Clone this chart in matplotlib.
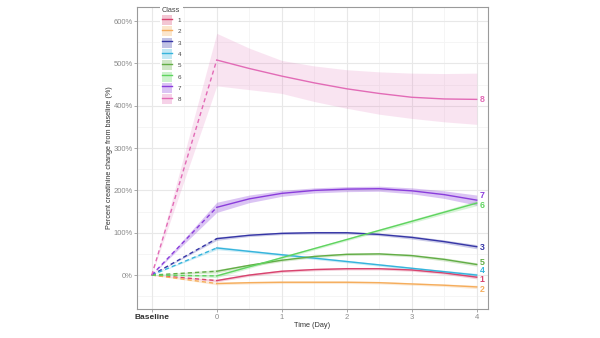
import matplotlib
matplotlib.use("Agg")
import matplotlib.pyplot as plt
from matplotlib.lines import Line2D
from matplotlib.patches import Patch

plt.rcParams['font.family'] = ['Liberation Sans', 'DejaVu Sans']

# ---- data ----
classes = ["1", "2", "3", "4", "5", "6", "7", "8"]
colors = ["#d8436e", "#f5ad5c", "#3636a6", "#35b4dc", "#62ad45", "#5fd45f", "#8a3ddb", "#e26bb6"]
times = [0, 0.5, 1, 1.5, 2, 2.5, 3, 3.5, 4]
baseline_x = -1
baseline_y = 0
values = {
    "1": [-13, 0, 9, 13, 15, 15, 12, 5, -5],
    "2": [-20, -18, -17, -17, -17, -18, -21, -24, -28],
    "3": [86, 94, 98.5, 100, 100, 96, 89, 79, 67],
    "4": [64, 56, 48, 40, 32, 24, 16, 8, 0],
    "5": [9, 23, 35, 44, 49, 50, 46, 37, 25],
    "6": [-2, 19.5, 41, 62.5, 84, 105.5, 127, 148.5, 170],
    "7": [160, 180, 193, 200, 203, 204, 199, 190, 177],
    "8": [508, 488, 470, 454, 440, 429, 420, 416, 415],
}
lower = {
    "1": [-16, -3, 6, 10, 12, 12, 9, 2, -9],
    "2": [-23, -21, -20, -20, -20, -21, -24, -27, -32],
    "3": [82, 91, 95.5, 97, 97, 93, 85, 75, 62],
    "4": [60, 53, 45, 37, 29, 21, 13, 5, -4],
    "5": [5, 20, 32, 41, 46, 47, 43, 33, 21],
    "6": [-6, 16, 38, 59.5, 81, 102, 123, 144, 164],
    "7": [148, 171, 186, 194, 197, 198, 192, 181, 165],
    "8": [447, 438, 429, 410, 394, 380, 370, 362, 356],
}
upper = {
    "1": [-10, 3, 12, 16, 18, 18, 15, 8, -1],
    "2": [-17, -15, -14, -14, -14, -15, -18, -21, -24],
    "3": [90, 97, 101.5, 103, 103, 99, 93, 83, 72],
    "4": [68, 59, 51, 43, 35, 27, 19, 11, 4],
    "5": [13, 26, 38, 47, 52, 53, 49, 41, 29],
    "6": [2, 23, 44, 65.5, 87, 109, 131, 153, 176],
    "7": [172, 189, 200, 206, 209, 210, 206, 199, 189],
    "8": [571, 536, 507, 494, 485, 480, 477, 476, 477],
}
fill_alpha = [0.25, 0.25, 0.25, 0.25, 0.25, 0.25, 0.3, 0.18]
label_y = {"1": -10, "2": -34, "3": 65, "4": 10, "5": 30, "6": 164, "7": 189, "8": 415}
label_x = 4.045
y_ticks = [0, 100, 200, 300, 400, 500, 600]
y_minor = [-50, 50, 150, 250, 350, 450, 550]
x_ticks = [-1, 0, 1, 2, 3, 4]
x_ticklabels = ["Baseline", "0", "1", "2", "3", "4"]
x_minor = [-0.5, 0.5, 1.5, 2.5, 3.5]

# ---- figure ----
fig = plt.figure(figsize=(6, 3.38), dpi=100)
ax = fig.add_axes([0.228, 0.086, 0.585, 0.893])
ax.set_xlim(-1.23, 4.17)
ax.set_ylim(-80, 633)

for yv in y_minor:
    ax.axhline(yv, color="#f4f4f4", lw=0.6, zorder=0)
for xv in x_minor:
    ax.axvline(xv, color="#f4f4f4", lw=0.6, zorder=0)
for yv in y_ticks:
    ax.axhline(yv, color="#e8e8e8", lw=0.8, zorder=0)
for xv in x_ticks:
    ax.axvline(xv, color="#e8e8e8", lw=0.8, zorder=0)

handles = []
for i, c in enumerate(classes):
    col = colors[i]
    v = values[c]
    lo = lower[c]
    hi = upper[c]
    a = fill_alpha[i]
    # dashed segment from baseline
    ax.fill_between([baseline_x, times[0]], [baseline_y, lo[0]], [baseline_y, hi[0]],
                    color=col, alpha=a, lw=0, zorder=1)
    ax.plot([baseline_x, times[0]], [baseline_y, v[0]], color=col, lw=1.0,
            ls=(0, (3, 2.2)), zorder=3)
    # solid trajectory
    ax.fill_between(times, lo, hi, color=col, alpha=a, lw=0, zorder=1)
    ax.plot(times, v, color=col, lw=1.0, zorder=3)
    ax.text(label_x, label_y[c], c, color=col, fontsize=6.3, fontweight="bold",
            ha="left", va="center", zorder=4)
    handles.append((Patch(facecolor=col, alpha=0.3, edgecolor="none"),
                    Line2D([], [], color=col, lw=1.0)))

ax.set_yticks(y_ticks)
ax.set_yticklabels([f"{t}%" for t in y_ticks])
ax.set_xticks(x_ticks)
ax.set_xticklabels(x_ticklabels)
ax.tick_params(axis="both", length=2, width=0.5, color="#888888",
               labelsize=5.5, labelcolor="#8a8a8a", pad=1.5)
ax.tick_params(axis="y", pad=1)
tl = ax.get_xticklabels()[0]
tl.set_fontweight("bold")
tl.set_color("#333333")
tl.set_fontsize(6)

for s in ax.spines.values():
    s.set_color("#9a9a9a")
    s.set_linewidth(0.8)

ax.set_xlabel("Time (Day)", fontsize=5.3, color="#333333", labelpad=1)
ax.set_ylabel("Percent creatinine change from baseline (%)", fontsize=5.2,
              color="#333333", labelpad=0.5)

leg = ax.legend(handles, classes, title="Class", loc="upper left",
                bbox_to_anchor=(0.066, 1.007), frameon=True, fontsize=4.5,
                title_fontsize=5.3, handlelength=1.6, handleheight=2.1,
                labelspacing=0.2, borderpad=0.3, handletextpad=0.9,
                borderaxespad=0)
leg.get_frame().set_facecolor("white")
leg.get_frame().set_edgecolor("none")
leg.get_frame().set_alpha(1)
leg._legend_box.align = "left"
leg.get_title().set_color("#444444")
for t in leg.get_texts():
    t.set_color("#444444")
leg.set_zorder(10)

fig.savefig("out.png", dpi=100)
